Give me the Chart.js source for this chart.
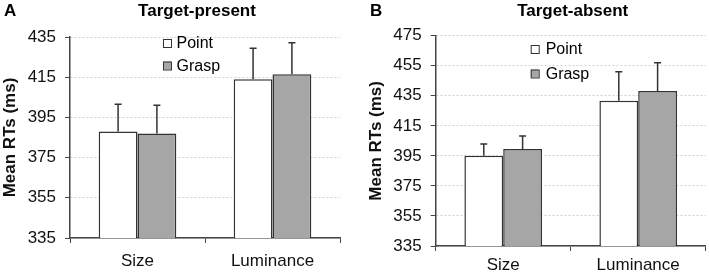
<!DOCTYPE html>
<html>
<head>
<meta charset="utf-8">
<script src="https://cdn.jsdelivr.net/npm/chart.js@4.4.1/dist/chart.umd.min.js"></script>
<style>
    html, body { margin: 0; padding: 0; background: #fff; }
    #wrap { position: relative; width: 709px; height: 275px; }
    .panel { position: absolute; top: 0; }
    #panelA { left: 0; }
    #panelB { left: 355px; }
</style>
</head>
<body>
<div id="wrap">
    <div class="panel" id="panelA"><canvas id="chartA" width="355" height="275"></canvas></div>
    <div class="panel" id="panelB"><canvas id="chartB" width="354" height="275"></canvas></div>
</div>
<script>
const categories  = ["Size", "Luminance"];
const seriesNames = ["Point", "Grasp"];

// Panel A – target-present
const presentPoint    = [388, 414];
const presentGrasp    = [387, 416.5];
const presentPointErr = [13.5, 15.4];
const presentGraspErr = [14, 15.7];
const presentTicks    = [335, 355, 375, 395, 415, 435];

// Panel B – target-absent
const absentPoint    = [395, 431.7];
const absentGrasp    = [399.6, 438.2];
const absentPointErr = [7.9, 19.3];
const absentGraspErr = [8.6, 18.8];
const absentTicks    = [335, 355, 375, 395, 415, 435, 455, 475];

const FONT = "'Liberation Sans', Arial, sans-serif";
const INK  = "#333";

// upward error bars with caps
const errorBars = {
    id: "errorBars",
    afterDatasetsDraw(chart) {
        const ctx = chart.ctx, y = chart.scales.y;
        ctx.save();
        ctx.strokeStyle = INK;
        ctx.lineWidth = 1.5;
        chart.data.datasets.forEach((ds, i) => {
            chart.getDatasetMeta(i).data.forEach((bar, j) => {
                const top = y.getPixelForValue(ds.data[j] + ds.errors[j]);
                ctx.beginPath();
                ctx.moveTo(bar.x, bar.y);
                ctx.lineTo(bar.x, top);
                ctx.moveTo(bar.x - 3.5, top);
                ctx.lineTo(bar.x + 3.5, top);
                ctx.stroke();
            });
        });
        ctx.restore();
    }
};

// panel letter, title and in-plot legend
const decorations = {
    id: "decorations",
    afterDraw(chart, args, o) {
        const ctx = chart.ctx, area = chart.chartArea;
        ctx.save();
        ctx.fillStyle = "#000";
        ctx.textBaseline = "middle";
        ctx.font = "bold 17px " + FONT;
        ctx.textAlign = "left";
        ctx.fillText(o.letter, o.letterX, o.titleY);
        ctx.textAlign = "center";
        ctx.fillText(o.title, o.titleX, o.titleY);

        ctx.font = "16px " + FONT;
        ctx.textAlign = "left";
        chart.data.datasets.forEach((ds, i) => {
            const cy = area.top + o.legendTop + i * o.legendGap;
            const bx = area.left + o.legendLeft;
            ctx.fillStyle = ds.backgroundColor;
            ctx.fillRect(bx, cy - 4, 8, 8);
            ctx.strokeStyle = INK;
            ctx.lineWidth = 1;
            ctx.strokeRect(bx + 0.5, cy - 3.5, 8, 8);
            ctx.fillStyle = "#000";
            ctx.fillText(ds.label, bx + o.legendText, cy + 1);
        });
        ctx.restore();
    }
};

function makeChart(id, pointVals, graspVals, pointErr, graspErr, ticks, L) {
    return new Chart(document.getElementById(id), {
        type: "bar",
        data: {
            labels: categories,
            datasets: [
                { label: seriesNames[0], data: pointVals, errors: pointErr,
                  backgroundColor: "#ffffff", borderColor: INK, borderWidth: 1.5 },
                { label: seriesNames[1], data: graspVals, errors: graspErr,
                  backgroundColor: "#a6a6a6", borderColor: INK, borderWidth: 1.5 },
            ]
        },
        options: {
            responsive: false, animation: false, devicePixelRatio: 1,
            layout: { padding: { top: L.top, right: L.right, left: 0, bottom: 0 } },
            datasets: { bar: { categoryPercentage: 0.575, barPercentage: 1 } },
            plugins: {
                legend: { display: false },
                tooltip: { enabled: false },
                decorations: L.deco,
            },
            scales: {
                x: {
                    afterFit: s => { s.height = L.xHeight; },
                    ticks: { color: "#111", font: { size: 17, family: FONT }, padding: L.xPad },
                    grid: { drawOnChartArea: false, offset: true, tickLength: 5, tickColor: "#444", color: "#444" },
                    border: { color: "#444", width: 1.5 },
                },
                y: {
                    min: ticks[0], max: ticks[ticks.length - 1],
                    afterBuildTicks: s => { s.ticks = ticks.map(v => ({ value: v })); },
                    afterFit: s => { s.width = L.yWidth; },
                    ticks: { color: "#111", font: { size: 17, family: FONT }, padding: 9 },
                    grid: { color: "#d4d4d4", tickColor: "#444", tickLength: 5 },
                    border: { display: true, color: "#444", width: 1.5, dash: [2, 2] },
                    title: {
                        display: true, text: "Mean RTs (ms)", color: "#111",
                        font: { size: 17, weight: "bold", family: FONT },
                        padding: { top: L.yTitlePad, bottom: 0 }
                    }
                }
            }
        },
        plugins: [errorBars, decorations]
    });
}

makeChart("chartA", presentPoint, presentGrasp, presentPointErr, presentGraspErr, presentTicks, {
    top: 37, right: 15, yWidth: 70, xHeight: 37, xPad: 8.5, yTitlePad: 0,
    deco: { letter: "A", letterX: 4, title: "Target-present", titleX: 197, titleY: 11,
            legendLeft: 93, legendTop: 6, legendGap: 22.5, legendText: 13.5 }
});

makeChart("chartB", absentPoint, absentGrasp, absentPointErr, absentGraspErr, absentTicks, {
    top: 35.7, right: 3.3, yWidth: 80.7, xHeight: 29, xPad: 4.5, yTitlePad: 11,
    deco: { letter: "B", letterX: 15, title: "Target-absent", titleX: 217.7, titleY: 11,
            legendLeft: 95, legendTop: 13.3, legendGap: 24.5, legendText: 15 }
});
</script>
</body>
</html>
